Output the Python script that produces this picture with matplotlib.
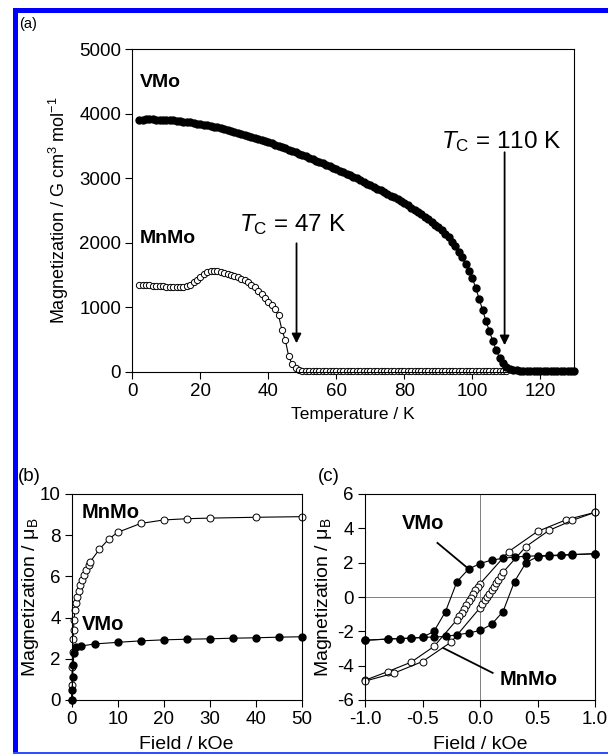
import numpy as np
import matplotlib
matplotlib.use("Agg")
import matplotlib.pyplot as plt
from matplotlib.patches import Rectangle

plt.rcParams["font.family"] = ["Liberation Sans", "DejaVu Sans"]
plt.rcParams["mathtext.fontset"] = "custom"
plt.rcParams["mathtext.rm"] = "Liberation Sans"
plt.rcParams["mathtext.it"] = "Liberation Sans:italic"
plt.rcParams["mathtext.bf"] = "Liberation Sans:bold"

# (a) M vs T, 1 K steps
temp_vmo = np.arange(2, 131)
mag_vmo = [3905, 3907, 3908, 3908, 3908, 3907, 3906, 3904, 3902, 3899, 3895, 3890, 3884, 3876,
           3868, 3862, 3855, 3845, 3835, 3826, 3816, 3806, 3796, 3785, 3772, 3758, 3744, 3730,
           3715, 3700, 3686, 3671, 3656, 3640, 3624, 3607, 3590, 3572, 3555, 3536, 3517, 3498,
           3479, 3460,
           3440, 3420, 3400, 3380, 3360, 3338, 3316, 3294, 3272, 3250, 3228, 3206, 3184, 3162,
           3140, 3116, 3092, 3068, 3044, 3020, 2994, 2968, 2942, 2916, 2890, 2864, 2838, 2812,
           2786, 2760, 2730, 2700, 2670, 2640, 2610, 2576, 2542, 2508, 2474, 2440, 2400, 2360,
           2320, 2280, 2240, 2190, 2135, 2080, 2010, 1940, 1860, 1770, 1670, 1560, 1450, 1300,
           1130, 960, 790, 630, 480, 340, 220, 130, 75, 45, 30, 22, 17, 13, 11, 9, 8, 7, 6, 6,
           5, 5, 5, 4, 4, 4, 4, 4, 4]

temp_mnmo = np.arange(2, 111)
mag_mnmo = [1345, 1342, 1340, 1337, 1334, 1330, 1326, 1322, 1317, 1312, 1308, 1305,
            1306, 1312, 1325, 1350, 1385, 1425, 1468, 1510, 1538, 1555, 1562,
            1558, 1548, 1530, 1515, 1500, 1482, 1462, 1442, 1420, 1385, 1345,
            1305, 1255, 1203, 1145, 1084, 1035, 965, 875, 650, 490, 240, 115, 55, 28, 14, 8,
            7, 7, 6, 6, 6, 5, 5, 5, 5, 5, 5, 5, 5, 5, 5, 5, 4, 4, 4, 4, 4, 4, 4, 4, 4, 4,
            4, 4, 4, 4, 4, 4, 4, 4, 4, 4, 4, 4, 4, 4, 4, 4, 4, 4, 4, 4, 4, 4, 4, 4, 4, 4,
            4, 4, 4, 4, 4, 4, 4]

# (b) M vs H
field_mnmo = [0, 0.05, 0.1, 0.2, 0.3, 0.4, 0.5, 0.7, 0.9, 1.2, 1.5, 1.8, 2.2, 2.7, 3.2, 3.7, 4.0,
              6, 8, 10, 15, 20, 25, 30, 40, 50]
m_mnmo = [0, 0.72, 1.6, 2.35, 2.94, 3.4, 3.88, 4.37, 4.69, 5.02, 5.3, 5.58, 5.83, 6.07, 6.31,
          6.55, 6.7, 7.31, 7.8, 8.14, 8.57, 8.74, 8.8, 8.83, 8.87, 8.9]
field_vmo = [0, 0.1, 0.2, 0.3, 0.5, 1, 2, 5, 10, 15, 20, 25, 30, 35, 40, 45, 50]
m_vmo = [0, 0.5, 1.1, 1.7, 2.3, 2.55, 2.62, 2.72, 2.8, 2.87, 2.92, 2.95, 2.97, 3.0, 3.02, 3.05,
         3.07]

# (c) hysteresis loops
hv_down_x = [1.0, 0.8, 0.7, 0.6, 0.5, 0.4, 0.3, 0.2, 0.1, 0.0, -0.1, -0.2, -0.3, -0.4, -0.5,
             -0.6, -0.7, -0.8, -1.0]
hv_down_y = [2.52, 2.48, 2.45, 2.42, 2.4, 2.37, 2.33, 2.25, 2.15, 1.95, 1.62, 0.9, -0.85, -2.0,
             -2.35, -2.4, -2.42, -2.45, -2.52]
hv_up_x = [-1.0, -0.8, -0.7, -0.6, -0.5, -0.4, -0.3, -0.2, -0.1, 0.0, 0.1, 0.2, 0.3, 0.4, 0.5,
           0.6, 0.7, 0.8, 1.0]
hv_up_y = [-2.52, -2.45, -2.42, -2.4, -2.35, -2.33, -2.3, -2.2, -2.1, -1.95, -1.6, -0.85, 0.9,
           2.0, 2.35, 2.4, 2.42, 2.46, 2.52]

hm_down_x = [1.0, 0.75, 0.5, 0.25, 0.0, -0.02, -0.04, -0.06, -0.08, -0.1, -0.12, -0.14, -0.16,
             -0.18, -0.2, -0.4, -0.6, -0.8, -1.0]
hm_down_y = [4.93, 4.5, 3.82, 2.65, 0.77, 0.57, 0.4, 0.15, -0.05, -0.25, -0.48, -0.69, -0.93,
             -1.12, -1.32, -2.88, -3.8, -4.34, -4.85]
hm_up_x = [-1.0, -0.75, -0.5, -0.25, 0.0, 0.02, 0.04, 0.06, 0.08, 0.1, 0.12, 0.14, 0.16, 0.18,
           0.2, 0.4, 0.6, 0.8, 1.0]
hm_up_y = [-4.9, -4.44, -3.76, -2.62, -0.63, -0.4, -0.2, 0.02, 0.2, 0.4, 0.6, 0.8, 0.98, 1.22,
           1.44, 2.94, 3.88, 4.46, 4.93]

W, H = 608, 755
fig = plt.figure(figsize=(W / 100, H / 100), dpi=100)


def box(l, t, r, b):
    return [l / W, 1 - b / H, (r - l) / W, (b - t) / H]


def style(ax, fs):
    for s in ax.spines.values():
        s.set_linewidth(0.8)
    ax.tick_params(direction="out", length=5, width=0.8, labelsize=fs, top=False, right=False,
                   pad=3)


filled = dict(color="k", marker="o", mfc="k", mec="k", lw=0.8, clip_on=False)
hollow = dict(color="k", marker="o", mfc="white", mec="k", lw=0.8, mew=0.7, clip_on=False)

# ---- (a)
ax = fig.add_axes(box(132.3, 49, 574.3, 371.7))
ax.plot(temp_mnmo, mag_mnmo, ms=4.5, **hollow)
ax.plot(temp_vmo, mag_vmo, ms=5, **filled)
ax.set_xlim(0, 130)
ax.set_ylim(0, 5000)
ax.set_xticks(range(0, 121, 20))
ax.set_yticks(range(0, 5001, 1000))
style(ax, 13.5)
ax.set_xlabel("Temperature / K", fontsize=12.5, labelpad=5)
ax.set_ylabel("Magnetization / G cm$^{3}$ mol$^{-1}$", fontsize=13, labelpad=6)
ax.text(2.3, 4410, "VMo", fontsize=14, fontweight="bold")
ax.text(2.3, 1990, "MnMo", fontsize=14, fontweight="bold")
ax.text(31.3, 2180, "$T_{\\mathrm{C}}$ = 47 K", fontsize=17.5)
ax.text(90.9, 3470, "$T_{\\mathrm{C}}$ = 110 K", fontsize=17.5)
arrow = dict(arrowstyle="-|>", color="k", lw=1.3, mutation_scale=14, shrinkA=0, shrinkB=0)
ax.annotate("", xy=(48.3, 440), xytext=(48.3, 1990), arrowprops=arrow)
ax.annotate("", xy=(109.5, 410), xytext=(109.5, 3400), arrowprops=arrow)
fig.text(19 / W, 1 - 28 / H, "(a)", fontsize=10.5)

# ---- (b)
ax = fig.add_axes(box(71.7, 494, 301.7, 700))
ax.plot(field_mnmo, m_mnmo, ms=5, **hollow)
ax.plot(field_vmo, m_vmo, ms=5, **filled)
ax.set_xlim(0, 50)
ax.set_ylim(0, 10)
ax.set_xticks(range(0, 51, 10))
ax.set_yticks(range(0, 11, 2))
style(ax, 13.5)
ax.set_xlabel("Field / kOe", fontsize=14)
ax.xaxis.set_label_coords(0.5, -0.175)
ax.set_ylabel("Magnetization / μ$_{\\mathrm{B}}$", fontsize=14, labelpad=-1)
ax.text(2.2, 8.82, "MnMo", fontsize=14.5, fontweight="bold")
ax.text(2.2, 3.4, "VMo", fontsize=14.5, fontweight="bold")
fig.text(18 / W, 1 - 481 / H, "(b)", fontsize=13.5)

# ---- (c)
ax = fig.add_axes(box(365, 494, 595, 700))
ax.axhline(0, color="0.5", lw=0.7, zorder=0)
ax.axvline(0, color="0.5", lw=0.7, zorder=0)
ax.plot(hm_down_x, hm_down_y, ms=5, **hollow)
ax.plot(hm_up_x, hm_up_y, ms=5, **hollow)
ax.plot(hv_down_x, hv_down_y, ms=5, **filled)
ax.plot(hv_up_x, hv_up_y, ms=5, **filled)
ax.set_xlim(-1, 1)
ax.set_ylim(-6, 6)
ax.set_xticks([-1.0, -0.5, 0.0, 0.5, 1.0])
ax.set_xticklabels(["-1.0", "-0.5", "0.0", "0.5", "1.0"])
ax.set_yticks(range(-6, 7, 2))
ax.set_yticklabels([str(v) for v in range(-6, 7, 2)])
style(ax, 13.5)
ax.set_xlabel("Field / kOe", fontsize=14)
ax.xaxis.set_label_coords(0.5, -0.175)
ax.set_ylabel("Magnetization / μ$_{\\mathrm{B}}$", fontsize=14, labelpad=2)
ax.text(-0.68, 3.96, "VMo", fontsize=14.5, fontweight="bold")
ax.text(0.17, -5.12, "MnMo", fontsize=14.5, fontweight="bold")
ax.plot([-0.37, -0.11], [3.15, 1.7], color="k", lw=1.3)
ax.plot([-0.32, 0.11], [-2.97, -4.42], color="k", lw=1.3)
fig.text(318 / W, 1 - 481 / H, "(c)", fontsize=13.5)

# blue frame
fig.patches.append(Rectangle((12.5 / W, 1 - 753 / H), 5 / W, 745 / H, transform=fig.transFigure,
                             color="#0000ff", lw=0))
fig.patches.append(Rectangle((12.5 / W, 1 - 13 / H), 595.5 / W, 5 / H, transform=fig.transFigure,
                             color="#0000ff", lw=0))
fig.patches.append(Rectangle((12.5 / W, 1 - 753.5 / H), 595.5 / W, 1.5 / H,
                             transform=fig.transFigure, color="#3050ff", lw=0))

fig.savefig("out.png", dpi=100)
